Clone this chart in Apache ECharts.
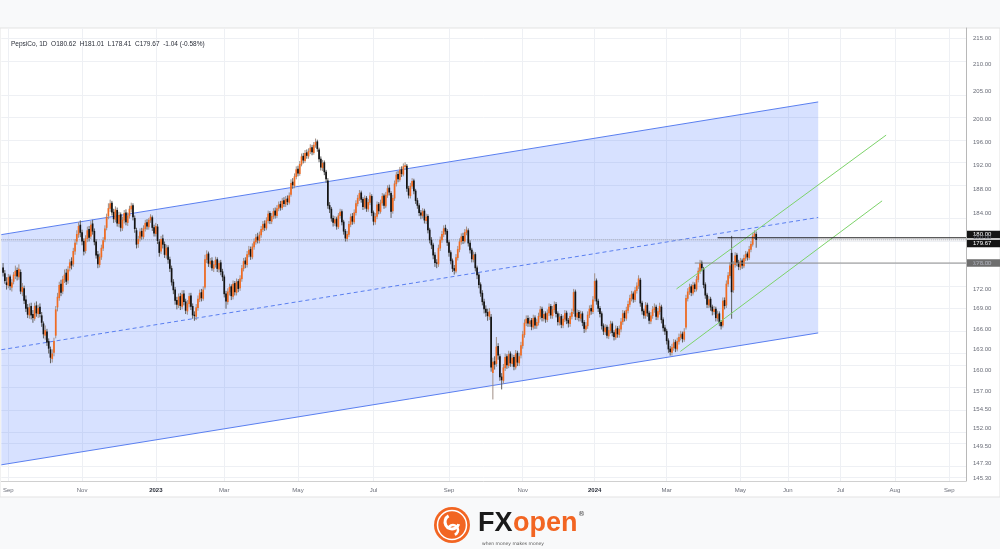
<!DOCTYPE html>
<html><head><meta charset="utf-8">
<script src="https://cdn.jsdelivr.net/npm/echarts@6/dist/echarts.min.js"></script>
<style>html,body{margin:0;padding:0;background:#f8f9fa;}#c{width:1000px;height:549px;}</style>
</head><body><div id="c"></div>
<script>
// ---------- data ----------
const titleText = 'PepsiCo, 1D  O180.62  H181.01  L178.41  C179.67  -1.04 (-0.58%)';
const monthLabels = ['Sep','Nov','2023','Mar','May','Jul','Sep','Nov','2024','Mar','May','Jun','Jul','Aug','Sep'];
const monthIdx = [3,45,87,126,168,211,254,296,337,378,420,447,477,508,539];
const yTicks = [215,210,205,200,196,192,188,184,180,176,172,169,166,163,160,157,154.5,152,149.5,147.3,145.3];
// daily candles from 2022-08-29 : [open, close, low, high]
const candles = [
[175.3,174.5,173.9,176.0],[174.4,173.2,172.8,174.9],[173.0,172.6,171.9,173.8],[172.5,173.8,172.1,174.3],[173.9,172.4,171.8,174.2],
[172.2,173.0,171.6,173.5],[173.1,174.2,172.7,174.6],[174.0,174.8,173.5,175.6],[174.9,173.9,173.3,175.3],[173.8,175.1,173.4,175.8],
[174.6,171.6,171.2,175.0],[171.5,172.3,170.9,172.9],[172.1,170.2,169.7,172.5],[170.4,169.0,168.5,171.0],[169.2,168.1,167.6,169.7],
[168.0,169.2,167.5,169.8],[169.4,168.0,167.4,169.9],[168.2,167.6,166.9,168.8],[167.5,169.4,167.2,169.9],[169.5,168.3,167.8,170.1],
[168.2,169.1,167.6,169.6],[169.3,168.2,167.7,169.8],[168.0,166.9,166.3,168.5],[166.8,165.2,164.6,167.1],[165.0,165.8,164.4,166.5],
[165.6,164.0,163.5,166.0],[164.2,163.1,162.4,164.6],[163.0,161.8,161.0,163.4],[161.6,162.4,161.1,163.0],[162.5,164.2,162.0,164.7],
[165.0,168.9,164.6,169.4],[169.2,170.8,168.6,171.4],[170.6,172.6,170.2,173.1],[172.8,171.4,170.9,173.4],[171.6,173.5,171.2,174.0],
[173.4,174.2,172.9,175.0],[174.5,173.1,172.6,175.1],[173.3,175.0,172.8,175.5],[175.2,176.1,174.7,176.6],[176.3,175.6,175.0,176.9],
[175.8,177.9,175.4,178.4],[177.8,179.2,177.3,179.8],[179.4,180.6,178.9,181.2],[180.5,181.9,180.0,182.5],[182.1,180.8,180.1,182.8],
[180.9,179.4,178.8,181.3],[179.5,177.8,177.2,179.9],[177.9,179.9,177.5,180.4],[179.8,181.2,179.3,181.8],[181.4,180.0,179.4,181.9],
[180.2,182.1,179.8,182.7],[182.3,181.0,180.5,182.9],[181.1,179.3,178.8,181.5],[179.4,177.2,176.7,179.8],[177.4,175.8,175.2,177.9],
[175.7,177.0,175.3,177.5],[176.9,178.4,176.5,178.9],[178.3,179.6,177.9,180.1],[179.7,181.5,179.3,182.0],[181.6,183.4,181.2,183.9],
[183.5,184.8,183.0,185.6],[184.7,185.6,184.2,186.2],[185.7,184.1,183.6,186.0],[184.2,183.0,182.4,184.7],[182.9,184.6,182.5,185.1],
[184.5,182.3,181.8,184.9],[182.2,183.7,181.7,184.2],[183.8,181.6,181.0,184.1],[181.5,182.9,181.1,183.4],[182.8,184.0,182.3,184.5],
[184.1,182.5,182.0,184.6],[182.4,183.6,181.9,184.1],[183.5,184.7,183.1,185.2],[184.6,185.2,184.1,185.7],[185.3,183.3,182.8,185.6],
[183.2,181.4,180.8,183.6],[181.2,178.9,178.3,181.6],[179.0,179.8,178.4,180.3],[179.9,181.0,179.4,181.5],[181.1,180.2,179.7,181.6],
[180.1,181.5,179.8,182.0],[181.4,182.4,181.0,182.9],[182.5,181.8,181.3,183.0],[181.7,182.9,181.3,183.2],[182.8,183.4,182.4,183.8],
[183.3,181.6,181.1,183.6],[181.7,180.7,180.2,182.1],[180.6,181.9,180.2,182.4],[181.8,179.5,179.0,182.2],[179.4,177.6,177.0,179.8],
[177.8,179.8,177.4,180.3],[179.9,178.9,178.3,180.5],[179.0,177.3,176.8,179.4],[177.2,178.4,176.7,178.9],[178.5,176.5,175.9,178.8],
[176.6,175.1,174.6,177.0],[175.2,173.0,172.5,175.6],[173.1,171.8,171.2,173.5],[171.9,170.2,169.6,172.3],[170.3,169.6,168.9,170.8],
[169.5,170.8,169.1,171.3],[170.9,169.4,168.8,171.4],[169.3,171.2,168.9,171.8],[171.3,170.0,169.5,171.8],[170.1,168.7,168.2,170.5],
[168.6,169.8,168.1,170.3],[169.7,170.9,169.2,171.4],[171.0,169.3,168.8,171.4],[169.4,168.0,167.5,169.8],[168.1,167.9,167.2,168.6],
[167.8,169.2,167.3,169.7],[169.1,170.5,168.7,171.0],[170.4,171.4,170.0,171.9],[171.5,170.6,170.1,172.0],[170.5,171.9,170.2,172.4],
[172.2,176.6,171.9,177.3],[176.5,177.4,176.0,178.0],[177.5,175.9,175.4,177.8],[175.8,176.3,175.3,176.8],[176.4,175.2,174.8,176.9],
[175.1,175.8,174.6,176.3],[175.7,176.5,175.3,177.0],[176.6,175.1,174.6,176.9],[175.0,176.0,174.5,176.4],[176.1,174.6,174.1,176.5],
[174.7,173.8,173.2,175.1],[173.9,171.2,170.7,174.2],[171.3,170.1,169.0,171.7],[170.0,171.6,169.6,172.1],[171.5,172.3,171.0,172.8],
[172.4,170.9,170.3,172.7],[170.8,172.8,170.4,173.3],[172.9,171.5,171.0,173.2],[171.4,173.1,171.0,173.6],[173.2,172.0,171.5,173.5],
[172.1,173.6,171.7,174.1],[173.5,175.2,173.1,175.7],[175.1,176.3,174.7,176.8],[176.4,175.8,175.2,176.9],[175.7,177.4,175.3,177.9],
[177.3,178.1,176.9,178.7],[178.2,177.0,176.5,178.6],[176.9,178.6,176.6,179.1],[178.5,179.4,178.1,179.9],[179.3,180.1,178.9,180.6],
[180.2,179.6,179.1,180.8],[179.5,180.5,179.1,181.0],[180.4,181.4,180.0,181.9],[181.3,182.2,180.9,182.7],[182.3,181.6,181.1,182.8],
[181.5,182.8,181.2,183.3],[182.7,183.9,182.3,184.4],[184.0,182.7,182.2,184.3],[182.6,183.5,182.2,184.0],[183.4,184.3,183.0,184.8],
[184.4,183.6,183.1,184.9],[183.5,184.8,183.2,185.3],[184.7,185.4,184.3,185.9],[185.5,184.9,184.4,186.0],[184.8,186.0,184.5,186.5],
[186.1,185.5,185.0,186.6],[185.4,186.3,185.0,186.8],[186.4,185.8,185.3,186.9],[185.7,186.9,185.4,187.4],[187.0,189.0,186.7,189.6],
[189.2,188.6,188.0,189.8],[188.5,190.1,188.1,190.6],[190.0,191.3,189.6,191.8],[191.4,190.6,190.1,191.9],[190.5,192.2,190.2,192.7],
[192.1,193.5,191.8,194.0],[193.6,192.8,192.3,194.1],[192.7,194.1,192.4,194.6],[194.2,193.6,193.1,194.7],[193.5,194.4,193.1,194.9],
[194.3,195.0,193.9,195.6],[195.1,194.2,193.7,195.5],[194.1,195.5,193.8,196.0],[195.4,196.0,195.0,196.6],[196.1,194.8,194.3,196.4],
[194.7,193.0,192.5,195.0],[193.1,191.6,191.1,193.5],[191.5,192.4,191.0,192.9],[192.5,190.8,190.3,192.8],[190.9,189.6,189.0,191.2],
[189.4,185.2,184.7,189.8],[185.3,184.6,184.0,185.8],[184.7,183.1,182.6,185.0],[183.2,182.4,181.8,183.6],[182.3,183.0,181.9,183.5],
[183.1,181.8,181.3,183.4],[181.7,183.6,181.4,184.0],[183.5,184.2,183.1,184.7],[184.3,182.5,182.0,184.6],[182.6,181.0,180.5,182.9],
[181.1,179.9,179.4,181.4],[179.8,180.6,179.4,181.1],[180.5,182.2,180.1,182.7],[182.1,183.4,181.7,183.9],[183.5,182.6,182.1,184.0],
[182.5,184.1,182.2,184.6],[184.0,185.6,183.6,186.1],[185.5,186.5,185.1,187.0],[186.4,187.3,186.0,187.8],[187.4,186.2,185.7,187.7],
[186.3,185.0,184.5,186.6],[184.9,186.4,184.6,186.9],[186.5,184.7,184.2,186.8],[184.6,185.8,184.2,186.3],[185.7,186.9,185.3,187.4],
[186.8,184.0,183.5,187.1],[184.1,182.6,182.0,184.4],[182.5,183.5,182.1,184.0],[183.4,185.4,183.0,185.9],[185.5,184.3,183.8,185.8],
[184.2,185.7,183.9,186.2],[185.6,186.8,185.2,187.3],[186.9,185.2,184.7,187.2],[185.1,187.0,184.8,187.5],[186.9,188.1,186.5,188.6],
[188.2,187.4,186.9,188.7],[187.3,184.2,183.2,187.6],[184.3,186.5,183.9,187.0],[186.4,188.9,186.0,189.4],[188.8,190.4,188.4,190.9],
[190.5,189.6,189.1,191.0],[189.5,191.2,189.2,191.7],[191.3,190.5,190.0,191.8],[190.4,191.8,190.1,192.3],[191.7,192.0,191.2,192.5],
[191.9,188.0,187.5,192.2],[188.1,186.9,186.4,188.5],[186.8,188.5,186.4,189.0],[188.4,189.3,188.0,189.8],[189.4,187.6,187.1,189.7],
[187.7,186.0,185.5,188.0],[186.1,185.2,184.7,186.5],[185.3,184.0,183.5,185.6],[184.1,183.6,183.0,184.5],[183.5,184.3,183.1,184.8],
[184.4,182.8,182.3,184.7],[182.7,183.4,182.2,183.9],[183.5,181.2,180.7,183.8],[181.3,179.6,179.1,181.6],[179.7,178.8,178.2,180.1],
[178.9,177.2,176.6,179.2],[177.3,176.0,175.4,177.7],[176.1,175.9,175.2,176.6],[175.8,178.4,175.4,178.9],[178.3,179.7,177.9,180.2],
[179.6,180.6,179.2,181.1],[180.5,181.5,180.1,182.0],[181.6,181.0,180.5,182.1],[181.1,179.2,178.7,181.4],[179.3,177.6,177.0,179.6],
[177.7,176.3,175.8,178.0],[176.4,175.1,174.6,176.7],[175.2,174.8,174.2,175.7],[174.7,176.9,174.4,177.4],[176.8,178.2,176.4,178.7],
[178.1,179.4,177.7,179.9],[179.3,180.2,178.9,180.7],[180.3,179.5,179.0,180.8],[179.4,180.9,179.1,181.4],[180.8,181.3,180.4,181.8],
[181.2,179.1,178.6,181.5],[179.2,178.0,177.5,179.6],[178.1,176.6,176.1,178.4],[176.5,177.3,176.1,177.8],[177.4,175.2,174.7,177.7],
[175.3,174.1,173.5,175.6],[174.2,172.6,172.1,174.5],[172.7,171.3,170.8,173.0],[171.4,170.0,169.5,171.8],[170.1,168.9,168.3,170.5],
[169.0,168.4,167.8,169.5],[168.5,167.9,167.2,169.0],[167.8,168.6,167.3,169.1],[167.8,160.4,159.8,168.2],[159.6,161.2,155.9,161.8],
[161.3,160.8,160.1,162.0],[160.9,163.4,160.5,164.8],[163.5,162.1,161.5,163.9],[162.0,159.0,158.5,162.3],[159.1,158.6,157.3,159.6],
[158.5,160.4,158.1,160.9],[160.3,161.9,159.9,162.4],[162.0,160.7,160.2,162.3],[160.6,162.3,160.3,162.8],[162.4,161.0,160.5,162.7],
[160.9,161.8,160.5,162.3],[161.9,160.5,160.0,162.2],[160.4,162.4,160.1,162.9],[162.5,161.1,160.6,162.8],[161.0,162.0,160.6,162.5],
[162.1,163.6,161.7,164.1],[163.5,165.2,163.1,165.7],[165.1,166.9,164.7,167.4],[166.8,167.5,166.4,168.0],[167.6,166.8,166.3,168.0],
[166.7,167.2,166.3,167.7],[167.3,166.3,165.8,167.6],[166.2,167.6,165.9,168.1],[167.7,166.5,166.0,168.0],[166.4,167.0,166.0,167.5],
[166.9,167.9,166.5,168.4],[167.8,168.9,167.4,169.4],[169.0,167.6,167.1,169.3],[167.5,168.2,167.1,168.7],[168.3,167.4,166.9,168.6],
[167.3,168.4,167.0,168.9],[168.3,169.3,167.9,169.8],[169.4,168.0,167.5,169.7],[167.9,168.9,167.5,169.4],[168.8,169.6,168.4,170.1],
[169.7,168.2,167.7,170.0],[168.3,167.0,166.5,168.6],[166.9,167.8,166.5,168.3],[167.9,166.6,166.1,168.2],[166.5,167.5,166.1,168.0],
[167.4,168.3,167.0,168.8],[168.4,167.2,166.7,168.7],[167.3,166.8,166.2,167.6],[166.7,167.9,166.3,168.4],[167.8,168.5,167.4,169.0],
[168.6,171.5,168.2,172.0],[171.6,167.8,167.3,171.9],[167.7,168.4,167.3,168.9],[168.5,167.6,167.1,168.8],[167.5,168.2,167.1,168.7],
[168.3,166.9,166.4,168.6],[167.0,166.0,165.4,167.3],[165.9,166.5,165.5,167.0],[166.4,168.1,166.0,168.6],[168.0,169.0,167.6,169.5],
[169.1,168.6,168.1,169.6],[168.5,170.4,168.2,170.9],[170.5,173.2,170.1,174.4],[173.3,170.1,169.6,173.6],[170.2,169.0,168.5,170.5],
[169.1,168.2,167.7,169.4],[168.3,166.4,165.9,168.6],[166.5,165.6,165.1,166.8],[165.5,166.2,165.1,166.7],[166.3,165.0,164.6,166.6],
[164.9,165.8,164.5,166.3],[165.7,166.7,165.3,167.2],[166.8,165.4,164.9,167.1],[165.5,164.8,164.3,165.8],[164.7,166.0,164.4,166.5],
[166.1,165.2,164.7,166.4],[165.1,166.0,164.7,166.5],[165.9,167.1,165.5,167.6],[167.0,168.3,166.6,168.8],[168.4,167.6,167.1,168.7],
[167.5,168.8,167.2,169.3],[168.7,169.7,168.3,170.2],[169.6,170.6,169.2,171.1],[170.5,171.2,170.1,171.7],[171.3,170.4,169.9,171.6],
[170.3,171.8,170.0,172.3],[171.7,172.5,171.3,173.0],[172.4,173.6,172.0,174.1],[173.4,169.8,169.3,173.7],[169.9,168.6,168.1,170.2],
[168.7,168.0,167.5,169.0],[167.9,169.5,167.5,170.0],[169.6,168.3,167.8,169.9],[168.4,167.2,166.7,168.7],[167.1,168.0,166.7,168.5],
[167.9,168.9,167.5,169.4],[168.8,169.2,168.4,169.8],[169.3,167.8,167.3,169.6],[167.7,168.6,167.3,169.1],[168.5,169.4,168.1,169.9],
[169.3,167.3,166.8,169.6],[167.4,166.1,165.6,167.7],[166.2,165.6,165.1,166.6],[165.7,164.2,163.7,166.0],[164.3,163.0,162.5,164.6],
[163.1,162.6,162.1,163.5],[162.5,163.3,162.1,163.8],[163.2,164.0,162.8,164.5],[164.1,163.1,162.6,164.4],[163.0,164.2,162.7,164.7],
[164.1,164.8,163.7,165.3],[164.7,165.2,164.3,165.7],[165.3,164.5,164.0,165.6],[164.4,165.6,164.1,166.1],[166.2,170.6,165.9,171.1],
[170.5,171.6,170.1,172.1],[171.5,172.3,171.1,172.8],[172.4,171.4,170.9,172.7],[171.3,172.6,171.0,173.1],[172.7,172.0,171.5,173.0],
[171.9,173.5,171.6,174.0],[173.4,174.8,173.0,175.3],[174.7,176.0,174.3,176.5],[176.1,175.2,174.7,176.4],[175.1,172.6,172.1,175.4],
[172.7,171.0,170.5,173.0],[171.1,169.6,169.1,171.4],[169.5,170.4,169.1,170.9],[170.5,169.2,168.7,170.8],[169.3,168.6,168.0,169.6],
[168.5,168.9,168.1,169.4],[169.0,167.6,167.1,169.3],[167.5,168.2,167.1,168.7],[168.3,166.9,166.4,168.6],[167.0,166.4,165.9,167.3],
[166.5,170.2,166.2,170.7],[170.3,169.4,168.9,170.7],[169.5,172.8,169.1,173.3],[172.7,174.1,172.3,174.6],[174.0,175.6,173.6,176.1],
[177.6,171.5,167.5,180.3],[171.8,175.8,171.4,176.3],[175.7,177.2,175.3,177.7],[177.3,176.0,175.5,177.6],[176.1,175.4,174.9,176.5],
[175.3,176.3,174.9,176.8],[176.4,175.6,175.1,176.7],[175.5,176.8,175.2,177.3],[176.7,177.4,176.3,177.9],[177.5,176.9,176.4,177.8],
[176.8,178.2,176.5,178.7],[178.1,179.0,177.7,179.5],[178.9,180.3,178.6,180.8],[180.2,180.7,179.8,181.2],[180.62,179.67,178.41,181.01]
];
// parallel channel (bar index, price)
const channelX = [-1, 464.3];
const channelUpper = [180.5, 203.1];
const channelLower = [147.1, 165.4];
// green trend channel
const greenUpperX = [383.6, 503.0], greenUpperP = [172.0, 197.2];
const greenLowerX = [385.8, 500.7], greenLowerP = [162.7, 186.0];
// horizontal levels
const level180 = {start: 407, price: 180.0};
const level176 = {start: 394, price: 176.0};
const lastPrice = 179.67;

// ---------- chart ----------
const L = Math.log;
const X_MIN = -1, X_MAX = 548.5;
const Y_MIN = L(145.0), Y_MAX = L(216.9);
const ORANGE = '#f26b21', BLACK = '#131313';
const chart = echarts.init(document.getElementById('c'), null, {renderer: 'canvas'});
const fmtTick = v => {
  let best = yTicks[0], d = 1e9;
  yTicks.forEach(p => { const dd = Math.abs(L(p) - v); if (dd < d) { d = dd; best = p; } });
  return best.toFixed(2);
};
const fmtMonth = v => {
  const k = monthIdx.indexOf(Math.round(v));
  if (k < 0) return '';
  const s = monthLabels[k];
  return /^\d{4}$/.test(s) ? '{y|' + s + '}' : s;
};
const candleData = candles.map((d, i) => [i, L(d[0]), L(d[1]), L(d[2]), L(d[3])]);
const seg = (xs, ps) => [[xs[0], L(ps[0])], [xs[1], L(ps[1])]];
const midP = [Math.exp((L(channelUpper[0]) + L(channelLower[0])) / 2), Math.exp((L(channelUpper[1]) + L(channelLower[1])) / 2)];

const option = {
  animation: false,
  backgroundColor: 'transparent',
  textStyle: {fontFamily: 'Liberation Sans, Arial, sans-serif'},
  title: {text: titleText, left: 6, top: 36, textStyle: {fontSize: 6.5, fontWeight: 'normal', color: '#2a2e39'}},
  grid: {left: 0, right: 34, top: 28, bottom: 68, containLabel: false},
  xAxis: {
    type: 'value', min: X_MIN, max: X_MAX,
    axisLine: {show: true, onZero: false, lineStyle: {color: '#d0d0d0'}},
    axisTick: {show: false}, splitLine: {show: false},
    axisLabel: {customValues: monthIdx, formatter: fmtMonth, fontSize: 6, color: '#6a6d78', margin: 6,
      rich: {y: {fontSize: 6, color: '#2a2e39', fontWeight: 'bold'}}}
  },
  yAxis: {
    type: 'value', position: 'right', min: Y_MIN, max: Y_MAX, scale: true,
    axisLine: {show: true, onZero: false, lineStyle: {color: '#b8b8b8'}},
    axisTick: {show: false}, splitLine: {show: false},
    axisLabel: {customValues: yTicks.map(L), formatter: fmtTick, fontSize: 6, color: '#6a6d78', margin: 7}
  },
  series: [
    { // grid lines
      type: 'line', data: [], z: 0, silent: true,
      markLine: {z: 0, silent: true, symbol: ['none', 'none'], label: {show: false}, animation: false,
        lineStyle: {color: '#eef0f4', width: 1, type: 'solid'},
        emphasis: {disabled: true},
        data: yTicks.map(p => ({yAxis: L(p)})).concat(monthIdx.map(i => ({xAxis: i})))}
    },
    { // channel fill
      type: 'custom', z: 1, silent: true, clip: true,
      data: [[channelX[0], L(channelLower[0])]],
      renderItem: (params, api) => {
        const pts = [
          api.coord([channelX[0], L(channelUpper[0])]), api.coord([channelX[1], L(channelUpper[1])]),
          api.coord([channelX[1], L(channelLower[1])]), api.coord([channelX[0], L(channelLower[0])])
        ];
        return {type: 'polygon', shape: {points: pts}, style: {fill: 'rgba(41,98,255,0.19)'}};
      }
    },
    {type: 'line', z: 2, silent: true, showSymbol: false, data: seg(channelX, channelUpper), lineStyle: {color: '#5a7ff0', width: 1}},
    {type: 'line', z: 2, silent: true, showSymbol: false, data: seg(channelX, channelLower), lineStyle: {color: '#5a7ff0', width: 1}},
    {type: 'line', z: 2, silent: true, showSymbol: false, data: seg(channelX, midP), lineStyle: {color: '#5a7ff0', width: 1, type: [4, 3]}},
    {type: 'line', z: 2, silent: true, showSymbol: false, data: [[X_MIN, L(lastPrice)], [X_MAX, L(lastPrice)]], lineStyle: {color: '#8a8e99', width: 1, type: [1, 1]}},
    { // candles
      type: 'custom', z: 3, silent: true, clip: true,
      dimensions: ['i', 'o', 'c', 'l', 'h'],
      encode: {x: 0, y: [1, 2, 3, 4]},
      data: candleData,
      renderItem: (params, api) => {
        const x = api.value(0);
        const o = api.coord([x, api.value(1)]);
        const c = api.coord([x, api.value(2)]);
        const l = api.coord([x, api.value(3)]);
        const h = api.coord([x, api.value(4)]);
        const up = api.value(2) >= api.value(1);
        const top = Math.min(o[1], c[1]), bot = Math.max(o[1], c[1]);
        const w = 1.7;
        return {type: 'group', children: [
          {type: 'line', shape: {x1: h[0], y1: h[1], x2: l[0], y2: l[1]}, style: {stroke: up ? '#a08f86' : '#5e5e5e', lineWidth: 1}},
          {type: 'rect', shape: {x: o[0] - w / 2, y: top, width: w, height: Math.max(bot - top, 1)}, style: {fill: up ? ORANGE : BLACK}}
        ]};
      }
    },
    {type: 'line', z: 4, silent: true, showSymbol: false, data: seg(greenUpperX, greenUpperP), lineStyle: {color: '#7dd36a', width: 1}},
    {type: 'line', z: 4, silent: true, showSymbol: false, data: seg(greenLowerX, greenLowerP), lineStyle: {color: '#7dd36a', width: 1}},
    {type: 'line', z: 4, silent: true, showSymbol: false, data: [[level180.start, L(level180.price)], [X_MAX, L(level180.price)]], lineStyle: {color: '#1e1e1e', width: 1}},
    {type: 'line', z: 4, silent: true, showSymbol: false, data: [[level176.start, L(level176.price)], [X_MAX, L(level176.price)]], lineStyle: {color: '#8d8d8d', width: 1}}
  ]
};
chart.setOption(option);

// price badges on the scale + logo
const py = p => chart.convertToPixel({gridIndex: 0}, [X_MAX, L(p)])[1];
const px = chart.convertToPixel({gridIndex: 0}, [X_MAX, L(lastPrice)])[0];
const badge = (txt, cy, bg) => ({type: 'group', z: 100, children: [
  {type: 'rect', shape: {x: px, y: cy - 3.7, width: 1000 - px, height: 7.4}, style: {fill: bg}},
  {type: 'text', style: {text: txt, x: px + 7, y: cy, fill: '#ffffff', fontSize: 6, verticalAlign: 'middle', fontFamily: 'Liberation Sans, Arial'}}
]});
chart.setOption({graphic: [
  {type: 'rect', z: -10, silent: true, shape: {x: 0, y: 28, width: 1000, height: 469}, style: {fill: '#ffffff', stroke: '#e3e3e3', lineWidth: 1}},
  badge(level180.price.toFixed(2), py(level180.price) - 3.2, '#151515'),
  badge(lastPrice.toFixed(2), py(lastPrice) + 3.6, '#151515'),
  badge(level176.price.toFixed(2), py(level176.price), '#6e6e6e'),
  // logo
  {type: 'group', x: 452, y: 525, z: 100, children: [
    {type: 'circle', shape: {cx: 0, cy: 0, r: 18}, style: {fill: '#f26522'}},
    {type: 'circle', shape: {cx: 0, cy: 0, r: 14.5}, style: {fill: 'none', stroke: '#ffffff', lineWidth: 1.5}},
    {type: 'arc', shape: {cx: 0, cy: -3, r: 7, startAngle: 0.3, endAngle: 4.2}, style: {stroke: '#ffffff', lineWidth: 3, fill: 'none'}},
    {type: 'arc', shape: {cx: 1, cy: 5, r: 5, startAngle: 3.5, endAngle: 7.5}, style: {stroke: '#ffffff', lineWidth: 2.5, fill: 'none'}}
  ]},
  {type: 'text', z: 100, style: {text: 'FX', x: 478, y: 537, fill: '#1a1a1a', fontSize: 27, fontWeight: 'bold', fontFamily: 'Liberation Sans', textVerticalAlign: 'bottom'}},
  {type: 'text', z: 100, style: {text: 'open', x: 513, y: 537, fill: '#f26522', fontSize: 27, fontWeight: 'bold', fontFamily: 'Liberation Sans', textVerticalAlign: 'bottom'}},
  {type: 'text', z: 100, style: {text: 'when money makes money', x: 482, y: 541, fill: '#555', fontSize: 4.5, fontFamily: 'DejaVu Sans'}},
  {type: 'text', z: 100, style: {text: '®', x: 578, y: 511, fill: '#444', fontSize: 7, fontFamily: 'DejaVu Sans'}}
]});
</script></body></html>
